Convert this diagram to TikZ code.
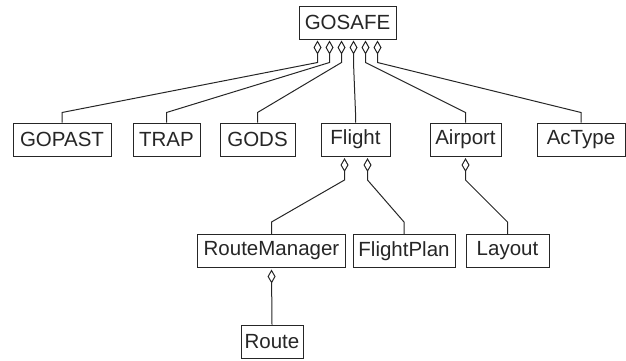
\documentclass[tikz,border=0pt]{standalone}
\usepackage{fontspec}
\setmainfont{Liberation Sans}
\usetikzlibrary{arrows.meta,calc}
\begin{document}
\begin{tikzpicture}[x=1pt,y=-1pt,
    cls/.style={draw=black!85,line width=1pt,fill=white,text=black!85,minimum height=33pt,inner sep=2pt,
        font=\fontsize{20.5}{24}\selectfont},
    agg/.style={draw=black!85,line width=1pt,{Diamond[open,length=14pt,width=8pt]}-}]
    \useasboundingbox (0,0) rectangle (626,360);

    \node[cls,minimum width=97pt] (gosafe) at (347.5,22.5) {GOSAFE};

    \node[cls,minimum width=98pt] (gopast) at (62,139.5) {GOPAST};
    \node[cls,minimum width=67pt] (trap) at (166.5,139.5) {TRAP};
    \node[cls,minimum width=75pt] (gods) at (257.5,139.5) {GODS};
    \node[cls,minimum width=69pt] (flight) at (355.5,139.5) {Flight};
    \node[cls,minimum width=71pt] (airport) at (465.5,139.5) {Airport};
    \node[cls,minimum width=88pt] (actype) at (581,139.5) {AcType};

    \node[cls,minimum width=148pt] (routemgr) at (271.5,251) {RouteManager};
    \node[cls,minimum width=102pt] (flightplan) at (404,251) {FlightPlan};
    \node[cls,minimum width=83pt] (layout) at (507.5,251) {Layout};

    \node[cls,minimum width=62pt] (route) at (272,341.5) {Route};

    % GOSAFE parts
    \draw[agg] ([xshift=-30pt,yshift=-1pt]gosafe.south) -- ++(0,22) -- ($(gopast.north)+(0,-10)$) -- (gopast.north);
    \draw[agg] ([xshift=-18pt,yshift=-1pt]gosafe.south) -- ++(0,22) -- ($(trap.north)+(0,-10)$) -- (trap.north);
    \draw[agg] ([xshift=-6pt,yshift=-1pt]gosafe.south) -- ++(0,22) -- ($(gods.north)+(0,-10)$) -- (gods.north);
    \draw[agg] ([xshift=6pt,yshift=-1pt]gosafe.south) -- ++(0,22) -- ($(flight.north)+(0,-10)$) -- (flight.north);
    \draw[agg] ([xshift=18pt,yshift=-1pt]gosafe.south) -- ++(0,22) -- ($(airport.north)+(0,-10)$) -- (airport.north);
    \draw[agg] ([xshift=30pt,yshift=-1pt]gosafe.south) -- ++(0,22) -- ($(actype.north)+(0,-10)$) -- (actype.north);

    % Flight parts
    \draw[agg] ([xshift=-11pt,yshift=-1.5pt]flight.south) -- ++(0,22) -- ($(routemgr.north)+(0,-12)$) -- (routemgr.north);
    \draw[agg] ([xshift=12pt,yshift=-1.5pt]flight.south) -- ++(0,22) -- ($(flightplan.north)+(0,-12)$) -- (flightplan.north);

    % Airport parts
    \draw[agg] ([yshift=-1.5pt]airport.south) -- ++(0,22) -- ($(layout.north)+(0,-12)$) -- (layout.north);

    % RouteManager parts
    \draw[agg] ([yshift=-1.5pt]routemgr.south) -- (route.north);
\end{tikzpicture}
\end{document}
